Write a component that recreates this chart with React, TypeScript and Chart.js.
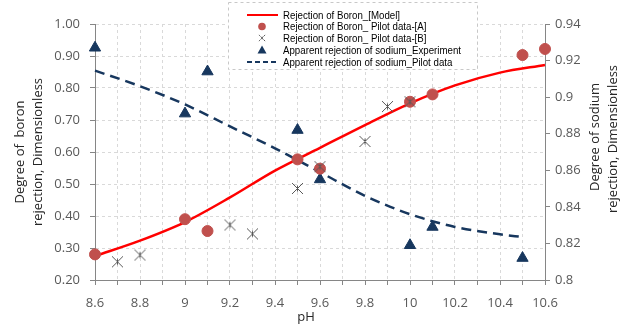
import React, { useEffect, useRef } from "react";
import { Chart, registerables } from "chart.js";

Chart.register(...registerables);

// ---- data ----
const phModel = [8.6, 8.8, 9.0, 9.2, 9.4, 9.6, 9.8, 10.0, 10.2, 10.4, 10.6];
const boronModel = [0.275, 0.323, 0.381, 0.458, 0.542, 0.613, 0.684, 0.752, 0.808, 0.848, 0.872];

const phPilotA = [8.6, 9.0, 9.1, 9.5, 9.6, 10.0, 10.1, 10.5, 10.6];
const boronPilotA = [0.28, 0.39, 0.353, 0.577, 0.548, 0.757, 0.78, 0.903, 0.922];

const phPilotB = [8.7, 8.8, 9.2, 9.3, 9.5, 9.6, 9.8, 9.9, 10.0];
const boronPilotB = [0.257, 0.278, 0.372, 0.344, 0.486, 0.554, 0.633, 0.742, 0.757];

const phSodiumExp = [8.6, 9.0, 9.1, 9.5, 9.6, 10.0, 10.1, 10.5];
const sodiumExp = [0.927, 0.891, 0.914, 0.882, 0.855, 0.819, 0.829, 0.812];

const phSodiumPilot = [8.6, 8.8, 9.0, 9.2, 9.4, 9.6, 9.8, 10.0, 10.2, 10.4, 10.5];
const sodiumPilot = [0.9145, 0.906, 0.896, 0.884, 0.872, 0.859, 0.846, 0.836, 0.829, 0.825, 0.8235];

const xTicks = [8.6, 8.7, 8.8, 8.9, 9.0, 9.1, 9.2, 9.3, 9.4, 9.5, 9.6, 9.7, 9.8, 9.9, 10.0, 10.1, 10.2, 10.3, 10.4, 10.5, 10.6];
const leftTicks = [0.2, 0.3, 0.4, 0.5, 0.6, 0.7, 0.8, 0.9, 1.0];
const rightTicks = [0.8, 0.82, 0.84, 0.86, 0.88, 0.9, 0.92, 0.94];

const labels = [
  "Rejection of Boron_[Model]",
  "Rejection of Boron_ Pilot data-[A]",
  "Rejection of Boron_ Pilot data-[B]",
  "Apparent rejection of sodium_Experiment",
  "Apparent rejection of sodium_Pilot data",
];
const leftTitle = ["Degree of  boron", "rejection, Dimensionless"];
const rightTitle = ["Degree of sodium", "rejection, Dimensionless"];
const xTitle = "pH";

const RED = "#ff0000";
const CIRCLE = "#c0504d";
const NAVY = "#17375e";
const GRAY = "#595959";
const GRID = "#d9d9d9";
const AXIS = "#868686";
const FONT = '"Open Sans", "Noto Sans", sans-serif';

function pairs(xs: number[], ys: number[]) {
  return xs.map((x, i) => ({ x, y: ys[i] }));
}

function makeStar(size: number, color: string): HTMLCanvasElement {
  const c = document.createElement("canvas");
  c.width = size;
  c.height = size;
  const g = c.getContext("2d")!;
  g.strokeStyle = color;
  g.lineWidth = 1;
  const m = size / 2;
  const r = size / 2 - 1;
  g.beginPath();
  g.moveTo(m - r, m - r);
  g.lineTo(m + r, m + r);
  g.moveTo(m + r, m - r);
  g.lineTo(m - r, m + r);
  g.moveTo(m, m - r * 0.55);
  g.lineTo(m, m + r * 0.55);
  g.stroke();
  return c;
}

const titlesPlugin = {
  id: "customTitles",
  afterDraw(chart: any) {
    const ctx = chart.ctx as CanvasRenderingContext2D;
    ctx.save();
    ctx.fillStyle = "#262626";
    ctx.font = `13px ${FONT}`;
    ctx.textAlign = "center";
    ctx.textBaseline = "middle";
    const drawRot = (text: string, x: number, y: number) => {
      ctx.save();
      ctx.translate(x, y);
      ctx.rotate(-Math.PI / 2);
      ctx.fillText(text, 0, 0);
      ctx.restore();
    };
    drawRot(leftTitle[0], 20, 152);
    drawRot(leftTitle[1], 38, 152);
    drawRot(rightTitle[0], 595, 137);
    drawRot(rightTitle[1], 613, 139);
    ctx.fillText(xTitle, 306, 317);
    ctx.restore();
  },
};

const legendPlugin = {
  id: "customLegend",
  afterDraw(chart: any) {
    const ctx = chart.ctx as CanvasRenderingContext2D;
    const ds = chart.data.datasets;
    ctx.save();
    ctx.fillStyle = "#ffffff";
    ctx.fillRect(228, 2, 249, 68);
    ctx.setLineDash([3, 3]);
    ctx.strokeStyle = "#c8c8c8";
    ctx.lineWidth = 1;
    ctx.strokeRect(228.5, 2.5, 249, 67);
    ctx.setLineDash([]);

    const rows = [15, 26.5, 38, 50, 62];
    const order = [3, 1, 0, 2, 4]; // dataset indices in legend order
    ctx.font = `11.5px "Liberation Sans", sans-serif`;
    let maxW = 0;
    order.forEach((di) => {
      maxW = Math.max(maxW, ctx.measureText(ds[di].label).width);
    });
    const s = Math.min(1, 178 / maxW);
    order.forEach((di, r) => {
      const y = rows[r];
      const d = ds[di];
      if (r === 0) {
        ctx.strokeStyle = RED;
        ctx.lineWidth = 2;
        ctx.beginPath();
        ctx.moveTo(247, y);
        ctx.lineTo(278, y);
        ctx.stroke();
      } else if (r === 1) {
        ctx.fillStyle = CIRCLE;
        ctx.beginPath();
        ctx.arc(262, y, 3.8, 0, Math.PI * 2);
        ctx.fill();
      } else if (r === 2) {
        const img = d.pointStyle as HTMLCanvasElement;
        ctx.drawImage(img, 262 - 4, y - 4, 8, 8);
      } else if (r === 3) {
        ctx.fillStyle = NAVY;
        ctx.beginPath();
        ctx.moveTo(262, y - 4.5);
        ctx.lineTo(266.5, y + 3.5);
        ctx.lineTo(257.5, y + 3.5);
        ctx.closePath();
        ctx.fill();
      } else {
        ctx.strokeStyle = NAVY;
        ctx.lineWidth = 2;
        ctx.setLineDash([5, 3]);
        ctx.beginPath();
        ctx.moveTo(247, y);
        ctx.lineTo(278, y);
        ctx.stroke();
        ctx.setLineDash([]);
      }
      ctx.fillStyle = "#000000";
      ctx.textAlign = "left";
      ctx.textBaseline = "middle";
      ctx.save();
      ctx.translate(283, y + 0.5);
      ctx.scale(s, 1);
      ctx.fillText(d.label, 0, 0);
      ctx.restore();
    });
    ctx.restore();
  },
};

export default function App() {
  const ref = useRef<HTMLCanvasElement | null>(null);

  useEffect(() => {
    if (!ref.current) return;
    const star = makeStar(13, GRAY);
    const chart = new Chart(ref.current, {
      type: "line",
      data: {
        datasets: [
          {
            label: labels[2],
            data: pairs(phPilotB, boronPilotB),
            showLine: false,
            pointStyle: star as any,
            pointRadius: 6,
            yAxisID: "y",
            order: 0,
            clip: false as any,
          },
          {
            label: labels[1],
            data: pairs(phPilotA, boronPilotA),
            showLine: false,
            pointStyle: "circle",
            pointRadius: 5.5,
            pointBackgroundColor: CIRCLE,
            pointBorderColor: CIRCLE,
            pointBorderWidth: 1,
            yAxisID: "y",
            order: 1,
            clip: false as any,
          },
          {
            label: labels[3],
            data: pairs(phSodiumExp, sodiumExp),
            showLine: false,
            pointStyle: "triangle",
            pointRadius: 6.5,
            pointBackgroundColor: NAVY,
            pointBorderColor: NAVY,
            pointBorderWidth: 1,
            yAxisID: "y1",
            order: 2,
            clip: false as any,
          },
          {
            label: labels[0],
            data: pairs(phModel, boronModel),
            borderColor: RED,
            borderWidth: 2.5,
            pointRadius: 0,
            cubicInterpolationMode: "monotone",
            fill: false,
            yAxisID: "y",
            order: 3,
            clip: false as any,
          },
          {
            label: labels[4],
            data: pairs(phSodiumPilot, sodiumPilot),
            borderColor: NAVY,
            borderWidth: 2.5,
            borderDash: [10, 6],
            pointRadius: 0,
            cubicInterpolationMode: "monotone",
            fill: false,
            yAxisID: "y1",
            order: 4,
            clip: false as any,
          },
        ],
      },
      options: {
        animation: false,
        responsive: false,
        events: [],
        layout: { padding: { top: 24, left: 0, right: 0, bottom: 0 } },
        plugins: {
          legend: { display: false },
          tooltip: { enabled: false },
          title: { display: false },
        },
        scales: {
          x: {
            type: "linear",
            min: 8.6,
            max: 10.6,
            afterBuildTicks: (s: any) => {
              s.ticks = xTicks.map((v) => ({ value: v }));
            },
            afterFit: (s: any) => {
              s.height = 44;
            },
            ticks: {
              autoSkip: false,
              maxRotation: 0,
              padding: 10,
              color: GRAY,
              font: { size: 13, family: FONT },
              callback: (v: any, i: number) => (i % 2 === 0 ? String(Number(Number(v).toFixed(1))) : ""),
            },
            grid: {
              color: GRID,
              lineWidth: 1,
              tickLength: 5,
              tickColor: AXIS,
            },
            border: { display: true, color: AXIS, width: 1, dash: [3, 3] },
          },
          y: {
            type: "linear",
            position: "left",
            min: 0.2,
            max: 1.0,
            afterBuildTicks: (s: any) => {
              s.ticks = leftTicks.map((v) => ({ value: v }));
            },
            afterFit: (s: any) => {
              s.width = 95;
            },
            ticks: {
              padding: 10,
              color: GRAY,
              font: { size: 13, family: FONT },
              callback: (v: any) => Number(v).toFixed(2),
            },
            grid: {
              color: GRID,
              lineWidth: 1,
              tickLength: 5,
              tickColor: AXIS,
            },
            border: { display: true, color: AXIS, width: 1, dash: [3, 3] },
          },
          y1: {
            type: "linear",
            position: "right",
            min: 0.8,
            max: 0.94,
            afterBuildTicks: (s: any) => {
              s.ticks = rightTicks.map((v) => ({ value: v }));
            },
            afterFit: (s: any) => {
              s.width = 84;
            },
            ticks: {
              padding: 5,
              color: GRAY,
              font: { size: 13, family: FONT },
              callback: (v: any) => String(Number(Number(v).toFixed(2))),
            },
            grid: {
              drawOnChartArea: false,
              color: AXIS,
              tickLength: 5,
              tickColor: AXIS,
            },
            border: { display: true, color: AXIS, width: 1 },
          },
        },
      } as any,
      plugins: [titlesPlugin, legendPlugin],
    });
    return () => chart.destroy();
  }, []);

  return (
    <div style={{ position: "fixed", left: 0, top: 0, width: 629, height: 324, background: "#fff" }}>
      <canvas ref={ref} width={629} height={324} style={{ display: "block" }} />
    </div>
  );
}
